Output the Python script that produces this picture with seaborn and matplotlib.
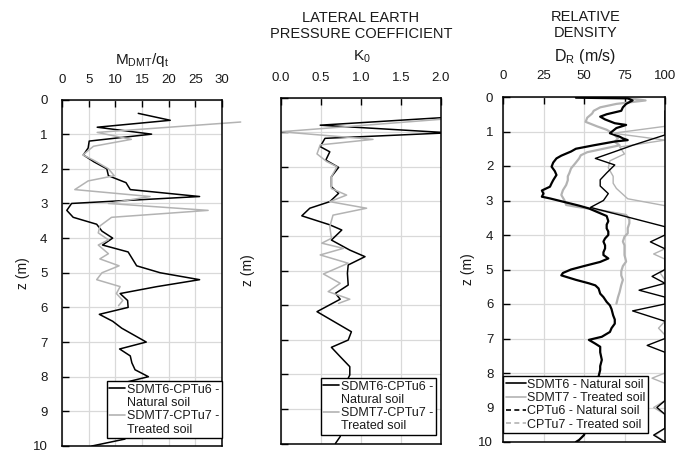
import matplotlib
matplotlib.use("Agg")
import matplotlib.pyplot as plt
import seaborn as sns
import pandas as pd
from matplotlib.lines import Line2D
from matplotlib.ticker import FormatStrFormatter

# ---------------- data ----------------
# Panel 1: M_DMT/qt
m_sdmt6_z = [0.4, 0.6, 0.8, 1.0, 1.2, 1.4, 1.6, 1.8, 2.0, 2.2, 2.4, 2.6, 2.8, 3.0, 3.2, 3.4, 3.6, 3.8,
             4.0, 4.2, 4.4, 4.6, 4.8, 5.0, 5.2, 5.4, 5.6, 5.8, 6.0, 6.2, 6.4, 6.6, 6.8, 7.0, 7.2, 7.4,
             7.6, 7.8, 8.0, 8.2, 8.4, 8.6, 8.8, 9.0, 9.2, 9.4, 9.6, 9.8, 10.0]
m_sdmt6_v = [14.3, 20.3, 6.6, 16.8, 5.1, 4.9, 4.0, 6.0, 8.4, 8.7, 12.0, 12.8, 25.8, 1.8, 0.9, 2.1, 6.5, 7.5,
             9.5, 7.6, 12.4, 13.2, 14.0, 18.4, 25.8, 17.8, 10.9, 12.3, 12.4, 7.0, 9.5, 11.2, 13.5, 15.8, 10.8, 12.8,
             13.1, 13.7, 16.2, 10.9, 12.0, 13.0, 12.0, 13.0, 12.0, 12.5, 12.0, 11.8, 5.6]
m_sdmt7_z = [0.65, 0.95, 1.15, 1.35, 1.6, 1.75, 2.0, 2.2, 2.35, 2.6, 2.8, 3.0, 3.2, 3.4, 3.65, 3.85,
             4.05, 4.2, 4.45, 4.6, 4.8, 5.0, 5.2, 5.4, 5.6, 5.8, 5.95]
m_sdmt7_v = [33.5, 6.6, 13.0, 5.9, 3.9, 5.9, 8.7, 9.8, 4.9, 2.4, 16.5, 8.7, 27.4, 9.3, 7.1, 6.8,
             8.7, 6.8, 8.7, 7.1, 10.7, 7.5, 6.5, 10.9, 10.2, 11.4, 10.6]

# Panel 2: K0
k_sdmt6_z = [0.57, 0.8, 1.02, 1.18, 1.42, 1.57, 1.81, 2.02, 2.29, 2.58, 2.77, 3.01, 3.2, 3.42, 3.68, 3.83,
             4.12, 4.41, 4.6, 4.84, 5.08, 5.42, 5.66, 5.83, 6.19, 6.77, 7.01, 7.22, 7.49, 7.78, 8.02,
             8.3, 8.6, 9.0, 9.4, 9.8, 10.0]
k_sdmt6_v = [2.1, 0.49, 2.1, 0.55, 0.49, 0.61, 0.56, 0.72, 0.63, 0.63, 0.72, 0.61, 0.36, 0.26, 0.61, 0.76,
             0.63, 0.86, 1.05, 0.84, 0.83, 0.84, 0.68, 0.74, 0.45, 0.88, 0.84, 0.63, 0.74, 0.86, 0.86,
             0.80, 0.78, 0.80, 0.76, 0.74, 0.68]
k_sdmt7_z = [0.63, 0.99, 1.21, 1.37, 1.63, 1.85, 2.0, 2.29, 2.63, 2.82, 3.01, 3.2, 3.4, 3.73, 4.07,
             4.21, 4.36, 4.55, 4.79, 5.1, 5.37, 5.61, 5.83, 5.95]
k_sdmt7_v = [2.0, 0.0, 1.15, 0.49, 0.45, 0.57, 0.70, 0.63, 0.63, 0.82, 0.61, 1.07, 0.65, 0.61, 0.63,
             0.51, 0.78, 0.49, 0.84, 0.53, 0.74, 0.59, 0.86, 0.72]

# Panel 3: relative density
d_sdmt6_z = [0.4, 0.6, 0.8, 1.0, 1.1, 1.4, 1.6, 1.78, 1.97, 2.2, 2.4, 2.58, 2.8, 3.0, 3.2, 3.76, 4.0, 4.2,
             4.4, 4.6, 4.8, 5.0, 5.2, 5.4, 5.6, 5.8, 6.0, 6.2, 6.5, 6.8, 7.0, 7.2, 7.4, 7.6, 7.8, 8.0,
             8.2, 8.4, 8.6, 8.8, 9.0, 9.2, 9.4, 9.6, 9.8, 10.0]
d_sdmt6_v = [100, 100, 100, 100, 100, 80, 68, 57, 69, 64, 60, 60, 65, 62, 54, 100, 100, 91,
             100, 100, 100, 100, 92, 100, 84, 100, 100, 80, 100, 100, 100, 89, 100, 100, 100, 100,
             100, 100, 100, 100, 95, 100, 100, 100, 93, 100]
d_sdmt7_z = [0.6, 0.85, 1.05, 1.25, 1.45, 1.65, 1.85, 2.05, 2.3, 2.5, 2.65, 2.95, 3.15, 3.4, 3.8, 4.2,
             4.4, 4.55, 4.7, 5.0, 5.1, 5.3, 6.5, 6.7, 6.9, 7.5, 8.0, 8.15, 8.3, 8.8, 9.0, 9.2, 9.6, 9.8, 10.0]
d_sdmt7_v = [100, 100, 68, 100, 72, 75, 66, 65, 68, 68, 70, 77, 100, 100, 100, 100,
             100, 93, 100, 100, 97, 100, 100, 96, 100, 100, 100, 92, 100, 100, 93, 100, 100, 94, 100]
d_cptu6_z = [0.02, 0.04, 0.1, 0.2, 0.3, 0.4, 0.5, 0.57, 0.65, 0.76, 0.81, 0.9, 1.05, 1.15, 1.2, 1.25, 1.29,
             1.4, 1.5, 1.58, 1.7, 1.78, 1.9, 2.02, 2.15, 2.26, 2.41, 2.5, 2.6, 2.71, 2.8, 2.89, 2.94,
             3.15, 3.23, 3.45, 3.6, 3.7, 3.81, 3.9, 4.0, 4.1, 4.19, 4.3, 4.39, 4.5, 4.58, 4.68, 4.78,
             4.9, 5.0, 5.1, 5.17, 5.3, 5.4, 5.46, 5.55, 5.7, 5.8, 5.94, 6.04, 6.15, 6.33, 6.45, 6.57,
             6.7, 6.81, 6.95, 7.04, 7.15, 7.24, 7.4, 7.62, 7.8, 7.91, 8.1, 8.3, 8.5, 9.0, 9.5, 9.8, 9.94, 10.0]
d_cptu6_v = [45, 77, 80, 76, 74, 73, 64, 60, 63, 69, 76, 70, 66, 72, 74, 77, 69,
             56, 45, 42, 36, 33, 31, 30, 32, 33, 31, 30, 29, 24, 25, 24, 29,
             47, 53, 64, 65, 64, 64, 65, 65, 63, 62, 63, 63, 62, 62, 65, 60,
             50, 42, 37, 36, 45, 53, 57, 59, 60, 62, 64, 66, 67, 68, 69, 69,
             67, 66, 61, 53, 57, 60, 60, 61, 60, 60, 59, 58, 57, 55, 52, 50, 47, 45]
d_cptu7_z = [0.02, 0.1, 0.2, 0.3, 0.4, 0.48, 0.6, 0.72, 0.85, 0.95, 1.06, 1.2, 1.3, 1.4, 1.5, 1.6, 1.69,
             1.78, 1.9, 2.07, 2.2, 2.3, 2.41, 2.55, 2.7, 2.84, 3.0, 3.13, 3.18, 3.3, 3.42, 3.55, 3.66,
             3.8, 3.95, 4.05, 4.19, 4.3, 4.45, 4.58, 4.77, 4.9, 5.05, 5.17, 5.3, 5.45, 5.65, 5.8, 5.99]
d_cptu7_v = [75, 88, 70, 60, 56, 55, 52, 51, 58, 64, 68, 71, 69, 72, 62, 52, 48,
             47, 45, 42, 41, 40, 40, 39, 37, 36, 38, 39, 45, 62, 76, 78, 78,
             77, 77, 75, 74, 75, 75, 75, 76, 74, 73, 73, 74, 73, 72, 71, 70]

depth_ticks = list(range(0, 11))
m_ticks = [0, 5, 10, 15, 20, 25, 30]
k_ticks = [0.0, 0.5, 1.0, 1.5, 2.0]
d_ticks = [0, 25, 50, 75, 100]

# ---------------- style ----------------
sns.set_style("white")
plt.rcParams['font.family'] = ['Liberation Sans', 'DejaVu Sans']
plt.rcParams['mathtext.fontset'] = 'custom'
plt.rcParams['mathtext.rm'] = 'Liberation Sans'
plt.rcParams['mathtext.it'] = 'Liberation Sans:italic'

BLACK = '#000000'
GRAY = '#b3b3b3'
TXT = '#1a1a1a'
TICK_FS = 9.5

fig = plt.figure(figsize=(6.9, 4.5), dpi=100)


def px_axes(l, r, t, b):
    return fig.add_axes([l / 690, 1 - b / 450, (r - l) / 690, (b - t) / 450])


ax1 = px_axes(62, 222, 99.5, 446)
ax2 = px_axes(281, 441, 97.5, 443.5)
ax3 = px_axes(503, 665, 97, 442)


def style(ax, xlim, xticks, xpad, ypad, ylabels, ylab_x):
    ax.set_xlim(*xlim)
    ax.set_ylim(10, 0)
    ax.set_xticks(xticks)
    ax.set_yticks(depth_ticks)
    ax.xaxis.tick_top()
    ax.tick_params(axis='x', direction='in', length=5, width=1, color='black', top=True, bottom=False,
                   labeltop=True, labelbottom=False, pad=xpad, labelsize=TICK_FS, labelcolor=TXT)
    ax.tick_params(axis='y', direction='in', length=5, width=1, color='black', left=True, right=False,
                   labelleft=ylabels, pad=ypad, labelsize=TICK_FS, labelcolor=TXT)
    ax.grid(True, color='#d9d9d9', lw=0.9)
    ax.set_axisbelow(True)
    for s in ax.spines.values():
        s.set_linewidth(1.1)
        s.set_color('black')
    ax.set_xlabel('')
    ax.set_ylabel('z (m)', fontsize=10, color=TXT)
    ax.yaxis.set_label_coords(ylab_x, 0.5)


# Panel 1
sns.lineplot(x=m_sdmt6_v, y=m_sdmt6_z, ax=ax1, sort=False, estimator=None, color=BLACK, lw=1.1)
sns.lineplot(x=m_sdmt7_v, y=m_sdmt7_z, ax=ax1, sort=False, estimator=None, color=GRAY, lw=1.1)
ax1.lines[-1].set_clip_on(False)
style(ax1, (0, 30), m_ticks, 10, 10.5, True, -0.2)

# Panel 2
sns.lineplot(x=k_sdmt6_v, y=k_sdmt6_z, ax=ax2, sort=False, estimator=None, color=BLACK, lw=1.1)
sns.lineplot(x=k_sdmt7_v, y=k_sdmt7_z, ax=ax2, sort=False, estimator=None, color=GRAY, lw=1.1)
style(ax2, (0, 2), k_ticks, 10, 7, False, -0.16)
ax2.xaxis.set_major_formatter(FormatStrFormatter('%.1f'))

# Panel 3
sns.lineplot(x=d_cptu7_v, y=d_cptu7_z, ax=ax3, sort=False, estimator=None, color=GRAY, lw=1.6)
sns.lineplot(x=d_cptu6_v, y=d_cptu6_z, ax=ax3, sort=False, estimator=None, color=BLACK, lw=1.6)
sns.lineplot(x=d_sdmt7_v, y=d_sdmt7_z, ax=ax3, sort=False, estimator=None, color=GRAY, lw=1.0)
sns.lineplot(x=d_sdmt6_v, y=d_sdmt6_z, ax=ax3, sort=False, estimator=None, color=BLACK, lw=1.0)
style(ax3, (0, 100), d_ticks, 11, 7, True, -0.17)

# ---------------- legends ----------------
leg_kw = dict(frameon=True, fancybox=False, edgecolor='black', framealpha=1, fontsize=9,
              handletextpad=0.15, labelspacing=0.1, borderpad=0.2, borderaxespad=0)
blank = Line2D([], [], color='none')
h12 = [Line2D([], [], color=BLACK, lw=1.2), blank, Line2D([], [], color=GRAY, lw=1.2), blank]
l12 = ['SDMT6-CPTu6 -', 'Natural soil', 'SDMT7-CPTu7 -', 'Treated soil']
lg1 = ax1.legend(h12, l12, loc='lower right', bbox_to_anchor=(1.0, 0.023), handlelength=1.3, **leg_kw)
lg2 = ax2.legend(h12, l12, loc='lower right', bbox_to_anchor=(0.969, 0.025), handlelength=1.3, **leg_kw)
h3 = [Line2D([], [], color=BLACK, lw=1.2), Line2D([], [], color=GRAY, lw=1.2),
      Line2D([], [], color=BLACK, lw=1.2, ls=(0, (3, 2))), Line2D([], [], color=GRAY, lw=1.2, ls=(0, (3, 2)))]
l3 = ['SDMT6 - Natural soil', 'SDMT7 - Treated soil', 'CPTu6 - Natural soil', 'CPTu7 - Treated soil']
lg3 = ax3.legend(h3, l3, loc='lower left', bbox_to_anchor=(0.0, 0.026), handlelength=1.6, **leg_kw)
for lg in (lg1, lg2, lg3):
    lg.get_frame().set_linewidth(1.0)
    for t in lg.get_texts():
        t.set_color(TXT)

# ---------------- titles ----------------
def ftext(xpx, ypx, s, size):
    fig.text(xpx / 690, 1 - ypx / 450, s, ha='center', va='center', fontsize=size, color=TXT,
             linespacing=1.2)


ftext(142, 60, r'M$_{\mathrm{DMT}}$/q$_{\mathrm{t}}$', 11)
ftext(361, 26, 'LATERAL EARTH\nPRESSURE COEFFICIENT', 10.5)
ftext(362, 57, r'K$_{\mathrm{0}}$', 11)
ftext(586, 25, 'RELATIVE\nDENSITY', 10.5)
ftext(585, 57, r'D$_{\mathrm{R}}$ (m/s)', 11.5)

fig.savefig('out.png', dpi=100)
